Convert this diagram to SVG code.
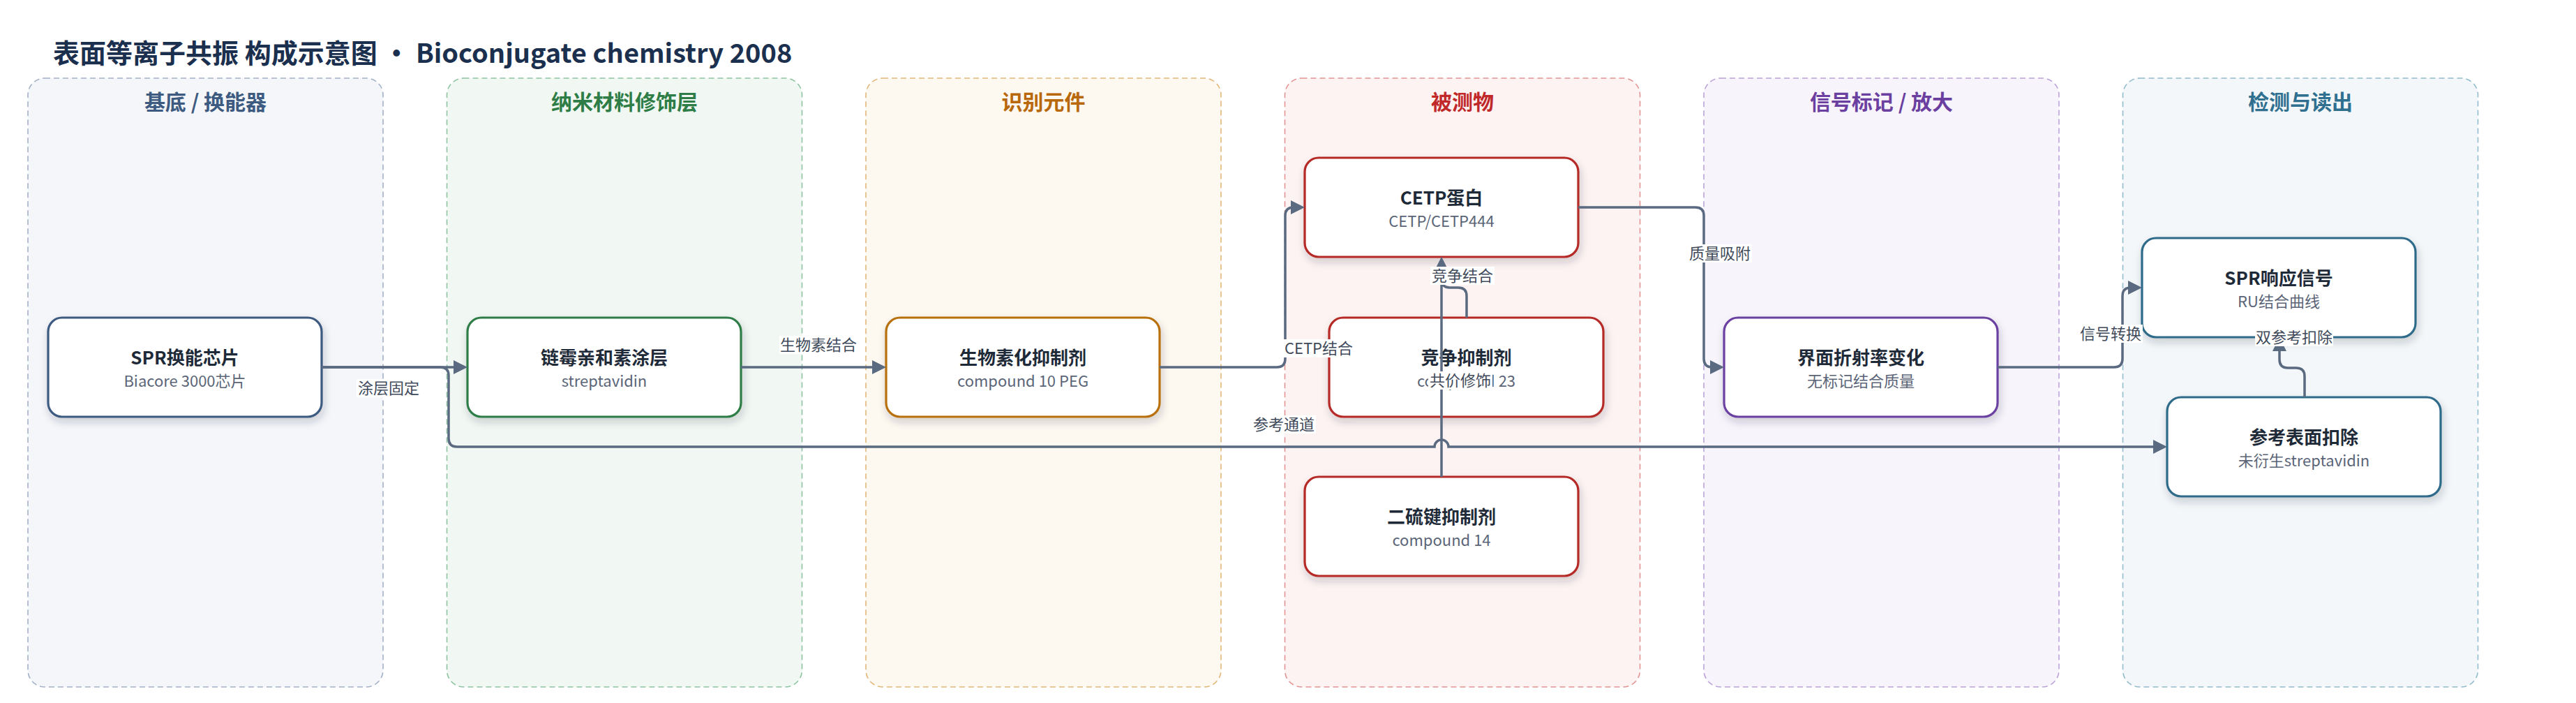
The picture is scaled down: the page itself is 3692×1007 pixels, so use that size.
<svg xmlns="http://www.w3.org/2000/svg" width="3692" height="1007" viewBox="0 0 3692 1007">
<style>
text{font-family:"Noto Sans CJK SC","Noto Sans",sans-serif}
.title{font-size:38px;font-weight:700;fill:#1b2f4e}
.lane{stroke-width:1.6;stroke-dasharray:8 5}
.lanelbl{font-size:30px;font-weight:700;text-anchor:middle}
.node rect{fill:#fff;stroke-width:3.2;filter:url(#sh)}
.nt{font-size:26px;font-weight:700;fill:#1e2a38;text-anchor:middle}
.ns{font-size:22px;fill:#5b6577;text-anchor:middle}
.edge{fill:none;stroke:#5a6a80;stroke-width:3.5;marker-end:url(#arr)}
.lbg{fill:#fff}
.lt{font-size:22px;fill:#3f4a5a;text-anchor:middle}
</style>
<defs>
<filter id="sh" x="-10%" y="-20%" width="125%" height="150%">
<feDropShadow dx="2" dy="6" stdDeviation="6" flood-color="#1e2a38" flood-opacity="0.2"/>
</filter>
<marker id="arr" viewBox="0 0 10 10" markerWidth="20" markerHeight="20" refX="5" refY="5" orient="auto" markerUnits="userSpaceOnUse">
<path d="M0,0 L10,5 L0,10 z" fill="#5a6a80"/>
</marker>
</defs>
<rect width="3692" height="1007" fill="#fff"/>
<text class="title" x="76" y="90">表面等离子共振 构成示意图 · Bioconjugate chemistry 2008</text>

<g id="lanes">
<g id="lane-substrate"><rect class="lane" x="40" y="112" width="509" height="872" rx="24" fill="#f4f6fa" stroke="#a3b1c8"/><text class="lanelbl" x="294.5" y="157" fill="#3d5a80">基底 / 换能器</text></g>
<g id="lane-nano"><rect class="lane" x="640.5" y="112" width="509" height="872" rx="24" fill="#f1f8f3" stroke="#8fc3a1"/><text class="lanelbl" x="895" y="157" fill="#2e7d46">纳米材料修饰层</text></g>
<g id="lane-recog"><rect class="lane" x="1241" y="112" width="509" height="872" rx="24" fill="#fdf8f0" stroke="#e3b77a"/><text class="lanelbl" x="1495.5" y="157" fill="#b8680a">识别元件</text></g>
<g id="lane-analyte"><rect class="lane" x="1841.5" y="112" width="509" height="872" rx="24" fill="#fdf3f2" stroke="#e39494"/><text class="lanelbl" x="2096" y="157" fill="#c0282a">被测物</text></g>
<g id="lane-signal"><rect class="lane" x="2442" y="112" width="509" height="872" rx="24" fill="#f7f4fc" stroke="#bba3d9"/><text class="lanelbl" x="2696.5" y="157" fill="#6a3fa0">信号标记 / 放大</text></g>
<g id="lane-detect"><rect class="lane" x="3042.5" y="112" width="509" height="872" rx="24" fill="#f3f7f9" stroke="#93bccc"/><text class="lanelbl" x="3297" y="157" fill="#2f6f8f">检测与读出</text></g>
</g>

<g id="nodes">
<g id="n-spr-chip" class="node"><rect x="69" y="455" width="392" height="142" rx="20" stroke="#3d5a80"/><text class="nt" x="265" y="522">SPR换能芯片</text><text class="ns" x="265" y="554">Biacore 3000芯片</text></g>
<g id="n-streptavidin" class="node"><rect x="670" y="455" width="392" height="142" rx="20" stroke="#2e7d46"/><text class="nt" x="866" y="522">链霉亲和素涂层</text><text class="ns" x="866" y="554">streptavidin</text></g>
<g id="n-biotin" class="node"><rect x="1270" y="455" width="392" height="142" rx="20" stroke="#b8700a"/><text class="nt" x="1466" y="522">生物素化抑制剂</text><text class="ns" x="1466" y="554">compound 10 PEG</text></g>
<g id="n-cetp" class="node"><rect x="1870" y="226" width="392" height="142" rx="20" stroke="#b52a25"/><text class="nt" x="2066" y="293">CETP蛋白</text><text class="ns" x="2066" y="325">CETP/CETP444</text></g>
<g id="n-competitive" class="node"><rect x="1905" y="455" width="393" height="142" rx="20" stroke="#b52a25"/><text class="nt" x="2101.5" y="522">竞争抑制剂</text><text class="ns" x="2101.5" y="554">compound 23</text></g>
<g id="n-disulfide" class="node"><rect x="1870" y="683" width="392" height="142" rx="20" stroke="#b52a25"/><text class="nt" x="2066" y="750">二硫键抑制剂</text><text class="ns" x="2066" y="782">compound 14</text></g>
<g id="n-refractive" class="node"><rect x="2471" y="455" width="392" height="142" rx="20" stroke="#6b3fa0"/><text class="nt" x="2667" y="522">界面折射率变化</text><text class="ns" x="2667" y="554">无标记结合质量</text></g>
<g id="n-spr-signal" class="node"><rect x="3070" y="341" width="392" height="142" rx="20" stroke="#2d6a8a"/><text class="nt" x="3266" y="408">SPR响应信号</text><text class="ns" x="3266" y="440">RU结合曲线</text></g>
<g id="n-reference" class="node"><rect x="3106" y="569" width="392" height="142" rx="20" stroke="#2d6a8a"/><text class="nt" x="3302" y="636">参考表面扣除</text><text class="ns" x="3302" y="668">未衍生streptavidin</text></g>
</g>

<g id="connectors">
<path class="edge" d="M461,526 H660"/>
<path class="edge" d="M461,526 H631 Q643,526 643,538 V628 Q643,640 655,640 H2056 A10,10 0 0 1 2076,640 H3096"/>
<path class="edge" d="M1062,526 H1260"/>
<path class="edge" d="M1662,526 H1830 Q1842,526 1842,514 V309 Q1842,297 1854,297 H1860"/>
<path class="edge" d="M2102,455 V424 Q2102,412 2090,412 H2078 Q2066,412 2066,400 V378"/>
<path class="edge" d="M2066,683 V378"/>
<path class="edge" d="M2262,297 H2430 Q2442,297 2442,309 V514 Q2442,526 2454,526 H2461"/>
<path class="edge" d="M2863,526 H3030 Q3042,526 3042,514 V424 Q3042,412 3054,412 H3060"/>
<path class="edge" d="M3303,569 V539 Q3303,527 3291,527 H3279 Q3267,527 3267,515 V493"/>
<g id="edge-labels">
<rect class="lbg" x="511" y="543" width="92" height="26"/><text class="lt" x="557" y="564">涂层固定</text>
<rect class="lbg" x="1117" y="481" width="112" height="26"/><text class="lt" x="1173" y="502">生物素结合</text>
<rect class="lbg" x="1839" y="486" width="102" height="26"/><text class="lt" x="1890" y="507">CETP结合</text>
<rect class="lbg" x="1794" y="595" width="92" height="26"/><text class="lt" x="1840" y="616">参考通道</text>
<rect class="lbg" x="2050" y="382" width="92" height="26"/><text class="lt" x="2096" y="403">竞争结合</text>
<rect class="lbg" x="2047" y="532" width="92" height="26"/><text class="lt" x="2093" y="553">共价修饰</text>
<rect class="lbg" x="2419" y="350" width="92" height="26"/><text class="lt" x="2465" y="371">质量吸附</text>
<rect class="lbg" x="2979" y="465" width="92" height="26"/><text class="lt" x="3025" y="486">信号转换</text>
<rect class="lbg" x="3232" y="470" width="112" height="26"/><text class="lt" x="3288" y="491">双参考扣除</text>
</g>
</g>
</svg>
